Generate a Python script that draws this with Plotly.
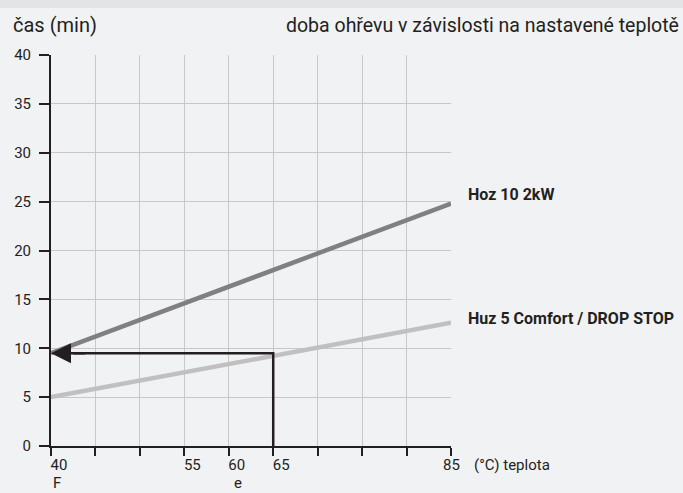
import plotly.graph_objects as go

# ---- data ----
temps = [40, 85]
hoz10_times = [9.5, 24.8]
huz5_times = [5.0, 12.6]
set_temp = 65
set_time = 9.5
x_tickvals = [40, 45, 50, 55, 60, 65, 70, 75, 80, 85]
x_ticktext = ["40", "", "", "55", "60", "65", "", "", "", ""]
x_end_label = "85"
y_tickvals = [0, 5, 10, 15, 20, 25, 30, 35, 40]

FONT = "Roboto, Liberation Sans, sans-serif"
BG = "#f1f2f4"
DARK = "#231f20"

fig = go.Figure()

fig.add_trace(go.Scatter(x=temps, y=hoz10_times, mode="lines",
                         line=dict(color="#808080", width=4.5), hoverinfo="skip"))
fig.add_trace(go.Scatter(x=temps, y=huz5_times, mode="lines",
                         line=dict(color="#c0c0c0", width=4.5), hoverinfo="skip"))
# reading path: up from set temperature, then left to time axis
fig.add_trace(go.Scatter(x=[set_temp, set_temp, temps[0] + 2.5], y=[0, set_time, set_time],
                         mode="lines", line=dict(color=DARK, width=2.5), hoverinfo="skip"))

fig.add_annotation(x=temps[0], y=set_time, ax=temps[0] + 4, ay=set_time,
                   xref="x", yref="y", axref="x", ayref="y", text="",
                   showarrow=True, arrowhead=2, arrowsize=1.6, arrowwidth=2.5,
                   arrowcolor=DARK, standoff=0)

fig.update_xaxes(range=[40, 85], tickvals=x_tickvals, ticktext=x_ticktext,
                 showgrid=True, gridcolor="#c8c8c8", gridwidth=1.3,
                 showline=True, linecolor=DARK, linewidth=2,
                 ticks="outside", ticklen=8, tickwidth=1.5, tickcolor=DARK,
                 ticklabelshift=8, ticklabelstandoff=-4, automargin=False,
                 tickfont=dict(family=FONT, size=15, color=DARK),
                 zeroline=False, fixedrange=True)
fig.update_yaxes(range=[0, 40], tickvals=y_tickvals,
                 showgrid=True, gridcolor="#c8c8c8", gridwidth=1.3,
                 showline=True, linecolor=DARK, linewidth=2,
                 ticks="outside", ticklen=10, tickwidth=1.5, tickcolor=DARK,
                 ticklabelstandoff=5, automargin=False,
                 tickfont=dict(family=FONT, size=15, color=DARK),
                 zeroline=False, fixedrange=True)

# top band
fig.add_shape(type="rect", xref="paper", yref="paper", x0=-1, x1=2, y0=1.12, y1=1.5,
              fillcolor="#e3e4e6", line_width=0, layer="below")

W, H = 683, 493
ml, mr, mt, mb = 51, 232, 55, 47
pw, ph = W - ml - mr, H - mt - mb

# end label of the x axis, centred under its tick
fig.add_annotation(text=x_end_label, x=temps[-1], xref="x", yref="paper",
                   y=1 - (465 - mt) / ph, xanchor="center", yanchor="middle",
                   showarrow=False, font=dict(family=FONT, size=15, color=DARK))

ann = [
    dict(text="čas (min)", x=11, y=25, xanchor="left", size=20),
    dict(text="doba ohřevu v závislosti na nastavené teplotě", x=681, y=25, xanchor="right", size=19.5),
    dict(text="(°C) teplota", x=472, y=465, xanchor="left", size=15),
    dict(text="<b>Hoz 10 2kW</b>", x=466, y=195, xanchor="left", size=16),
    dict(text="<b>Huz 5 Comfort / DROP STOP</b>", x=466, y=318, xanchor="left", size=16),
    dict(text="F", x=51, y=483, xanchor="left", size=15),
    dict(text="e", x=232, y=483, xanchor="left", size=15),
]
for a in ann:
    fig.add_annotation(text=a["text"], xref="paper", yref="paper",
                       x=(a["x"] - ml) / pw, y=1 - (a["y"] - mt) / ph,
                       xanchor=a["xanchor"], yanchor="middle", showarrow=False,
                       font=dict(family=FONT, size=a["size"], color=DARK))

fig.update_layout(width=W, height=H, margin=dict(l=ml, r=mr, t=mt, b=mb, autoexpand=False),
                  paper_bgcolor=BG, plot_bgcolor=BG, showlegend=False)

fig.write_html("out.html", config={"displayModeBar": False},
               post_script="document.body.style.margin='0';"
                           "document.body.style.background='#f1f2f4';")
